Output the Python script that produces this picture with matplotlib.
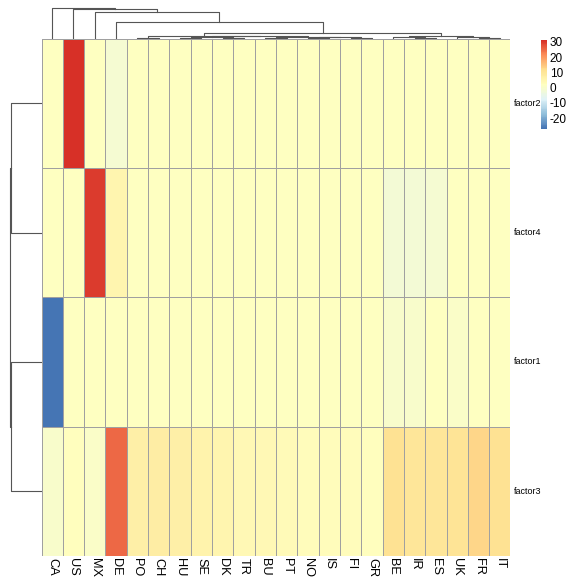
import matplotlib
matplotlib.use("Agg")
import numpy as np
import matplotlib.pyplot as plt
from matplotlib.colors import LinearSegmentedColormap, Normalize
from matplotlib.cm import ScalarMappable

plt.rcParams['font.family'] = ['Liberation Sans', 'DejaVu Sans']
plt.rcParams['axes.unicode_minus'] = False

countries = ["CA", "US", "MX", "DE", "PO", "CH", "HU", "SE", "DK", "TR", "BU",
             "PT", "NO", "IS", "FI", "GR", "BE", "IR", "ES", "UK", "FR", "IT"]
factors = ["factor2", "factor4", "factor1", "factor3"]

#            CA     US    MX    DE    PO   CH   HU   SE   DK   TR   BU   PT   NO   IS   FI   GR   BE    IR    ES   UK   FR   IT
factor2 = [1.5, 31.3, 1.8, -1.2, 1.8, 1.9, 1.8, 1.9, 1.8, 1.9, 1.8, 1.8, 1.9, 1.8, 1.8, 1.9, 1.6, 1.7, 1.8, 1.8, 1.9, 1.8]
factor4 = [1.8, 1.6, 30.0, 5.2, 2.0, 2.0, 2.0, 1.9, 2.0, 2.0, 2.0, 1.9, 1.8, 1.9, 1.8, 2.0, -1.5, -1.5, -1.0, 1.8, 1.8, 1.8]
factor1 = [-27.2, 2.0, 2.0, 2.0, 2.0, 2.0, 2.0, 2.0, 2.0, 2.0, 2.0, 2.0, 2.0, 2.0, 2.0, 2.0, 0.0, 0.0, 1.5, 0.5, 1.8, 1.8]
factor3 = [0.0, 2.2, 0.3, 25.2, 7.0, 7.5, 6.9, 5.7, 5.3, 4.3, 4.0, 3.8, 3.0, 2.8, 2.7, 2.5, 10.9, 9.8, 10.0, 10.7, 12.6, 11.0]

# dendrograms as (left, right, merge height)
col_d1 = (("PO", "CH", 1.0),
          ((("HU", "SE", 0.8), ("DK", "TR", 0.9), 1.8),
           (("BU", "PT", 0.6), (("NO", "IS", 0.5), ("FI", "GR", 0.7), 1.2), 1.5), 2.2), 2.6)
col_d2 = (("BE", ("IR", "ES", 0.8), 1.6), ("UK", ("FR", "IT", 0.9), 1.4), 2.5)
col_tree = ("CA", ("US", ("MX", ("DE", (col_d1, col_d2, 5.5), 16.5), 26.5), 29.5), 30.5)
row_tree = (("factor2", "factor4", 30.3), ("factor1", "factor3", 31.0), 31.7)

data = np.array([factor2, factor4, factor1, factor3])
pal = ["#4575B4", "#91BFDB", "#E0F3F8", "#FFFFBF", "#FEE090", "#FC8D59", "#D73027"]
cmap = LinearSegmentedColormap.from_list("rdylbu", pal, N=100)
norm = Normalize(vmin=data.min(), vmax=data.max())

W, H = 573, 584
fig = plt.figure(figsize=(W / 100, H / 100), dpi=100)


def px_axes(x0, y0, x1, y1):
    return fig.add_axes([x0 / W, 1 - y1 / H, (x1 - x0) / W, (y1 - y0) / H])


hx0, hx1, hy0, hy1 = 41.5, 510.5, 38.5, 556
ax = px_axes(hx0, hy0, hx1, hy1)
ax.pcolormesh(data, cmap=cmap, norm=norm, edgecolors="#a0a0a0", linewidth=0.6)
ax.set_xlim(0, len(countries))
ax.set_ylim(len(factors), 0)
ax.axis("off")
for j, c in enumerate(countries):
    ax.text(j + 0.5, len(factors) + 0.015, c, rotation=270, ha="center", va="top",
            fontsize=9.2, transform=ax.transData)
for i, f in enumerate(factors):
    ax.text(len(countries) + 0.15, i + 0.5, f, ha="left", va="center", fontsize=6.5)


def draw_tree(a, node, pos, top):
    if isinstance(node, str):
        return pos[node], 0.0
    left, right, h = node
    xl, hl = draw_tree(a, left, pos, top)
    xr, hr = draw_tree(a, right, pos, top)
    if top:
        a.plot([xl, xl, xr, xr], [hl, h, h, hr], color="#555555", lw=0.8)
    else:
        a.plot([hl, h, h, hr], [xl, xl, xr, xr], color="#555555", lw=0.8)
    return (xl + xr) / 2, h


tax = px_axes(hx0, 0, hx1, hy0)
draw_tree(tax, col_tree, {c: j + 0.5 for j, c in enumerate(countries)}, True)
tax.set_xlim(0, len(countries))
tax.set_ylim(0, hy0)
tax.axis("off")

lax = px_axes(0, hy0, hx0, hy1)
draw_tree(lax, row_tree, {f: i + 0.5 for i, f in enumerate(factors)}, False)
lax.set_xlim(hx0, 0)
lax.set_ylim(len(factors), 0)
lax.axis("off")

cax = px_axes(541, 40, 547, 129)
cb = fig.colorbar(ScalarMappable(norm=norm, cmap=cmap), cax=cax, ticks=[-20, -10, 0, 10, 20, 30])
cb.outline.set_visible(False)
cax.tick_params(length=0, labelsize=8.5, pad=2)

fig.savefig("out.png", dpi=100)
